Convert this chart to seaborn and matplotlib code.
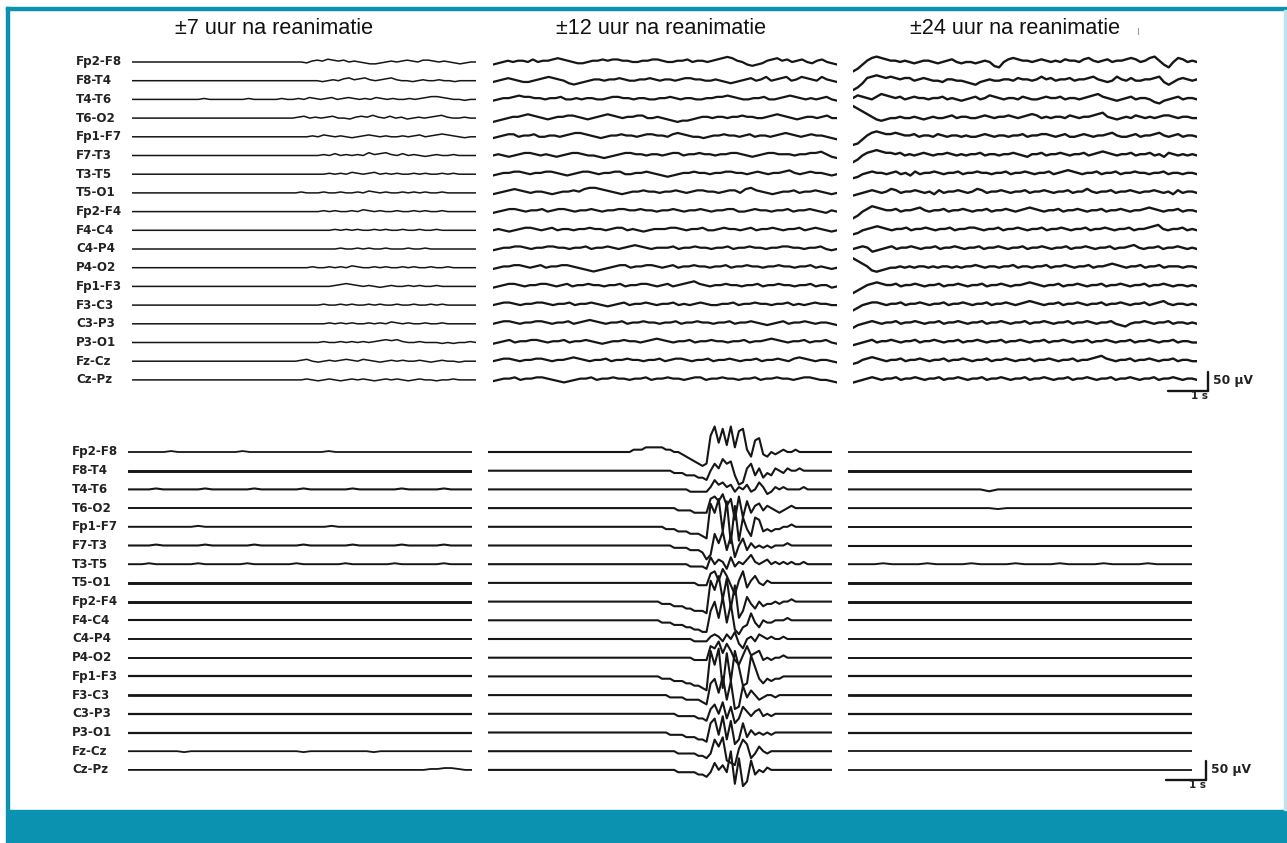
import numpy as np
import matplotlib
matplotlib.use("Agg")
import matplotlib.pyplot as plt
import seaborn as sns
from matplotlib.patches import Rectangle
from matplotlib.lines import Line2D

# ---------------------------------------------------------------- data
CHANNELS = ["Fp2-F8", "F8-T4", "T4-T6", "T6-O2", "Fp1-F7", "F7-T3", "T3-T5",
            "T5-O1", "Fp2-F4", "F4-C4", "C4-P4", "P4-O2", "Fp1-F3", "F3-C3",
            "C3-P3", "P3-O1", "Fz-Cz", "Cz-Pz"]
PERIODS = ["±7 uur na reanimatie", "±12 uur na reanimatie", "±24 uur na reanimatie"]

# Each trace is written as one character per sample: 'M' is the baseline,
# every letter above / below is one amplitude step up / down.
top_7h = [
    "MMMMMMMMMMMMMMMMMMMMMMMMMMMMMMMMMLNONPONOMNMLKKLMNMNONMOONMNMLKLMM",
    "MMMMMMMMMMMMMMMMMMMMMMMMMMMMMMMMMMMMLMNMOPNOPNMNOPNMMLMNMMNMMLMMMM",
    "MMMMMMMMMMMMMNMMMMMMMNMMMMMNMMNMONMNOMNONMNMONMNMMNMNOPPONMMLMM",
    "MMMMMMMMMMMMMMMMMMMMMMMMMMMMMNOMNMNOMMLNONPNMOMNLMNMNOPNMMNMM",
    "MMMMMMMMMMMMMMMMMMMMMMMMMMMMMMMMNMONMNMLMNONMNMMNMNOMNOPONMLMM",
    "MMMMMMMMMMMMMMMMMMMMMMMMMMMMMMMMMMNMOMNMNMPNOPNMOMNMLMNMMNMMMM",
    "MMMMMMMMMMMMMMMMMMMMMMMMMMMMMMMMMMMNMNMONMNOMNMNMMNMNMMNMNMMMM",
    "MMMMMMMMMMMMMMMMMMMMMMMMMMMMMMNMMMNMMNMMNMONMNMMNMNMNMMNMMMMMM",
    "MMMMMMMMMMMMMMMMMMMMMMMMMMMMMMMMMMNMNMMNMONMNMMNMMNMNMMNMMMMMM",
    "MMMMMMMMMMMMMMMMMMMMMMMMMMMMMMMMMMMMNMNMNMMNMNMMNMMNMMNMMMMMMM",
    "MMMMMMMMMMMMMMMMMMMMMMMMMMMMMMMMMMMMMNMMNMNMMNMMMNMMNMMMMMMMMM",
    "MMMMMMMMMMMMMMMMMMMMMMMMMMMMMMMMNMMNMNMONMMNMNMMNMNMMNMMNMMMMM",
    "MMMMMMMMMMMMMMMMMMMMMMMMMMMMMMMMMMMMNOPONMNMLMNMMNMNMMNMMMMMMM",
    "MMMMMMMMMMMMMMMMMMMMMMMMMMMMMMMMMMNMMNMNMMNMNMMNMMNMMNMNMMMMMM",
    "MMMMMMMMMMMMMMMMMMMMMMMMMMMMMMMMMMMNMNMNMMNMNMONMNMMNMMNMMMMMM",
    "MMMMMMMMMMMMMMMMMMMMMMMMMMMMMMMMMMNMMNMNMNMNOPOPNMMNMMMLMLMMNM",
    "MMMMMMMMMMMMMMMMMMMMMMMMMMMMMMNOMLMNMNONMONMLMNMNMMNMLMNMMLMMM",
    "MMMMMMMMMMMMMMMMMMMMMMMMMMMMMMMNMLMNMLMNMNMLMNMNMLMNMMLMMNMMMM",
]

top_12h = [
    "KLMNMNNMOMNNOPONMLLMNNONOONNMMNNOONMMNNOMNNMNOPQPNMKJKLNOPNOMNOMLNOMLK",
    "LMNONMLLMNOPONMKJKLMNNMNNONMMNNONMNNMNOONNMMNMLKLMNOMNPMNOPMNPONMPNML",
    "LMNNOPOONNMNNOMMNMNNMMNOONNMNNMMNNONMNNMMNNOOPONMMNNOMMNOPONMNMNOML",
    "JKLMNNOPONMLMNNOONMLMNOPONMNNOOMMNMLKJKKLMNNMNNMNNONNMMNOPONMLMNNMNOMM",
    "LMNOOMNNOMMNNMNOPPONMLMNNONNMNOONNMOPONMMLMNNONNMNOMNNMNOPONMNONNMLK",
    "MNMLMNOONMNMLMNOONMMLKLMNOONNMNNMNOOMNNONNMNNOONMLMNOONNNMNNOOPNLK",
    "LMNNOONMNNOONMLMNOONMNNOOMMNNONMLKLMNNONNMNNOONNMNONMNNOPNMNONNMLM",
    "LMNOPONMNNMLMNNONPQQPONMLMNNONNMNNONMNOONNMNOOMPQONMLMNNOMNNONMLM",
    "LMNOONMNNOMNOONMNNONMNNOONNONNMNNONMNNONMNNOOMMNONNMNNOMNNONMLNM",
    "MNMLMNOONMNOMNNMNNONNMNOOMNMLMNNNOONMNNOMMNONNMNOMNNONMNNOMNONMLM",
    "LMNNOONMNNOONNMNNOMNNONMNOPONMNNNOMNNONNMNNOMNNONNMNNOONNMNNOMLM",
    "LMNNOONMNOMNNOONMLKJKLMNOOMNNOONMNOMNNONNMNNOMNNONNMNNONNMNNOMNMLM",
    "LMNOONMNNOONMNOMNNONNMNNOMNNOONMNOMNOPQONMNNONNMNNOMNNONNMNNOMNNLM",
    "MNOONMNNOONMNNOMNNONMLMNOMNNONMNNOMNMNONMMNNOMNNONNMNNOMNMNONNMM",
    "MNOONMNNOONMNNOMNOPONMNNOMNNONNMNNOMNNONNMNNOMNNONMLMNOMNNONMNNML",
    "LMNOMNNOONMNNOMNNONMLMNNONNMNOPONMNNOMNNONNMNNOMNNOPONMNNOMNNOML",
    "MNOONMNNOONMNNOPONMNNOMNNONNMNNOMNOONMNNOMNNONMNNOMNNONMOPONMNNML",
    "LMNNOMNNOONMLKLMNNOMNNONNMNNOMNNONNMNOOMNNONNMNNOMNNONNMNOONMMLK",
]

top_24h = [
    "FHKNPQPONNMNMLMNNMLMNOMLMMLMNMJIMOPONNMNONMNMONNMOPNMNOMNNOPOMNPQNKIMPOMNM",
    "FHKOPQPOPONOOMNONMMLNNMMLKJLMNMMNNMONNMNPNOMNNOMNNOPNMLMPNMOMMNNOPLJLNONMN",
    "NPONMOQPONOMNONNMNNOMNMLMNOMNPONMNNMONMMNONNOMNNMNOPQONMLMNOMNNMKJLMNOMNNM",
    "VTRPNLKLMMNMMNMLMNMMNOMNNMMNONMNNONMNOPOMNMNNMONMNNOPQNMLMNMONMNMNOONMNNMM",
    "GHKNPQPOOPONNOMNNMONMNNMNMMNONMNNMNNOMNNOONMNOMMNONMNNOPNMMNOMNNOPNMNOMNNM",
    "HJMOPQPOONOMNMNONMNNONMNMNNOMNNMNNONMLNNOMNNONMNNOMNOPONMNNOMNNOMNLONMNMNM",
    "JKMNONNMNOMNLOMNNONMNNOMNNONNMNNOMNNONMNNOMNOPONMNNOMNNOMNNONNMNNOMNNMNNM",
    "KLMNONMNPOMNNONMNLOMNNONMNPOMNNONMNNOMNNONMNNOMNNPNMNNOMNNONMNNONMNLOMNNM",
    "HJMOQPONNOMNNOPNMNNOMNNONMNNOMNNONMNOPONMNNOMNNONMNNOMNNONMNNOPONMNNOMNNM",
    "JKMNOPONMNNOMNNONMNNOMNNOONMNNOMNNONMNNOMNNONMNNOMNNONMNNOMNNOPQNMNNOMNM",
    "MNONKLMNOMNNONMNNOMNNONMNNOMNNONMNNOMNNONMNNOMNNONMNNOMNNOPNMNNOMNNONMNM",
    "TRPNKJKLMMNMNMNNMNMNNMNMNNONMNNMNNOMNNMNNOMNNONMNNOMNNOPONMNNOMNNOMNNNMNNM",
    "HJLNOPONNOMNNONMNNOMNNONMNNOMNNONMNNOPONMNNOMNNONMNNOMNNONMNNOMNNONMNNMNM",
    "IKMNOONMNNOMNNONMNNOMNNONMNNOMNNONMNOPONMNNOMNNONMNNOMNNONMNNOMNOPNMNNMNM",
    "JLMNONMNNOMNNONMNNOMNNONMNNOMNNONMNNOMNNONMNNOMNNONMNNOMLKMNNONMNNOMNNMNM",
    "KLMNOMNNONMNNOMNNONMNNOMNNONMNNOMNNONMNNOMNNONMNNOMNNONMNNOMNNONMNNOMNNMM",
    "KLNOPONMNNOMNNONMNNOMNNONMNNOMNNONMNNOMNNONMNNOMNNOPQONMNNOMNNONMNNOMNNMM",
    "KLMNONMNNOMNNONMNNOMNNONMNNOMNNONMNNOMNNONMNNOMNNONMNNOMNNONMNNOMNNONMNNM",
]

bottom_7h = [
    "MMMMMMNMMMMMMMMMNMMMMMMMMMMMNMMMMMMMMMMMMMMMMMMMM",
    "MMMMMMMMMMMMMMMMMMMMMMMMMMMMMMMMMMMMMMMMMMMMMMMMMM",
    "MMMMNMMMMMMNMMMMMMNMMMMMMNMMMMMMNMMMMMMNMMMMMNMMMM",
    "MMMMMMMMMMMMMMMMMMMMMMMMMMMMMMMMMMMMMMMMMMMMMMMMMM",
    "MMMMMMMMMMNMMMMMMMMMMMMMMMMMMNMMMMMMMMMMMMMMMMMMMM",
    "MMMMNMMMMMMNMMMMMMNMMMMMMNMMMMMMNMMMMMMNMMMMMNMMMM",
    "MMMNMMMMMMNMMMMMMNMMMMMMNMMMMMMNMMMMMMNMMMMMMNMMMM",
    "MMMMMMMMMMMMMMMMMMMMMMMMMMMMMMMMMMMMMMMMMMMMMMMMMM",
    "MMMMMMMMMMMMMMMMMMMMMMMMMMMMMMMMMMMMMMMMMMMMMMMMMM",
    "MMMMMMMMMMMMMMMMMMMMMMMMMMMMMMMMMMMMMMMMMMMMMMMMMM",
    "MMMMMMMMMMMMMMMMMMMMMMMMMMMMMMMMMMMMMMMMMMMMMMMMMM",
    "MMMMMMMMMMMMMMMMMMMMMMMMMMMMMMMMMMMMMMMMMMMMMMMMMM",
    "MMMMMMMMMMMMMMMMMMMMMMMMMMMMMMMMMMMMMMMMMMMMMMMMMM",
    "MMMMMMMMMMMMMMMMMMMMMMMMMMMMMMMMMMMMMMMMMMMMMMMMMM",
    "MMMMMMMMMMMMMMMMMMMMMMMMMMMMMMMMMMMMMMMMMMMMMMMMMM",
    "MMMMMMMMMMMMMMMMMMMMMMMMMMMMMMMMMMMMMMMMMMMMMMMMMM",
    "MMMMMMMMLMMMMMMMMMMMMMMMMLMMMMMMMMMLMMMMMMMMMMMMMM",
    "MMMMMMMMMMMMMMMMMMMMMMMMMMMMMMMMMMMMMMMMMMMMNNOONMM",
]

bottom_12h = [
    "MMMMMMMMMMMMMMMMMMMMMMMMMMMMMMMMMMMMNN" "NOOOOONNMMLKJIHG" "HTXQWPXOVWNKRSLKML" "MNMMNMMMMMMMMM",
    "MMMMMMMMMMMMMMMMMMMMMMMMMMMMMMMMMMMMMM" "MMMMMMMMLLLKKKJJ" "IMPNRPQKGHNPKNJLKN" "MLNMMNMMMMMMMM",
    "MMMMMMMMMMMMMMMMMMMMMMMMMMMMMMMMMMMMMM" "MMMMMMMMMMMMLLLL" "LNQOPNOLNMOLMPNKLN" "MNMMMMNMMMMMMM",
    "MMMMMMMMMMMMMMMMMMMMMMMMMMMMMMMMMMMMMM" "MMMMMMMMMLLLLKKK" "KQRPSNQHRIPKNOLNML" "KLMNMMMMMMMMMM",
    "MMMMMMMMMMMMMMMMMMMMMMMMMMMMMMMMMMMMMM" "MMMMMMLLLKKKJJJI" "HWSYKXFVGQLIQPKLKL" "LMMNMMMMMMMMMM",
    "MMMMMMMMMMMMMMMMMMMMMMMMMMMMMMMMMMMMMM" "MMMMMMMMLLLLKKKJ" "GIRNSKQHMPKNLMLMLM" "MMNMMMMMMMMMMM",
    "MMMMMMMMMMMMMMMMMMMMMMMMMMMMMMMMMMMMMM" "MMMMMMMMMMMMLLLL" "KPMONKPLNMOQNMNOMN" "MNMNMMNMMMMMMM",
    "MMMMMMMMMMMMMMMMMMMMMMMMMMMMMMMMMMMMMM" "MMMMMMMMMMMMMMLL" "LQRNSPLHNRKNPMLNMM" "MMMMMMMMMMMMMM",
    "MMMMMMMMMMMMMMMMMMMMMMMMMMMMMMMMMMMMMM" "MMMMMLLLKKKJJIII" "HVRXNWJTFIOLJMKLLM" "LMMNMMMMMMMMMM",
    "MMMMMMMMMMMMMMMMMMMMMMMMMMMMMMMMMMMMMM" "MMMMMLLLKKKJJIIH" "HQUNWLTIGJKPLJMLLM" "MMNMMMMMMMMMMM",
    "MMMMMMMMMMMMMMMMMMMMMMMMMMMMMMMMMMMMMM" "MMMMMMMMMMMMMLLL" "LNONLOMPKIMNLONMNM" "MNMMMMMMMMMMMM",
    "MMMMMMMMMMMMMMMMMMMMMMMMMMMMMMMMMMMMMM" "MMMMMMMMMMMMMLLL" "LRQTOSPLJNRNOPLMLM" "MNMMMMMMMMMMMM",
    "MMMMMMMMMMMMMMMMMMMMMMMMMMMMMMMMMMMMMM" "MMMMMLLLKKKJJIIH" "GXRYHWKXQIJVQLJLKL" "LMMMMMMMMMMMMM",
    "MMMMMMMMMMMMMMMMMMMMMMMMMMMMMMMMMMMMMM" "MMMMMMMLLLLKKKKJ" "IRTNUKSGHQLOMKLMML" "MMMMMMMMMMMMMM",
    "MMMMMMMMMMMMMMMMMMMMMMMMMMMMMMMMMMMMMM" "MMMMMMMMMLLLLLKK" "JOQMRKPIKPNLNOLMLM" "MMMMMMMMMMMMMM",
    "MMMMMMMMMMMMMMMMMMMMMMMMMMMMMMMMMMMMMM" "MMMMMMMLLLLKKKJJ" "IQSLTJRHJQKNLMLMLM" "MMMMMMMMMMMMMM",
    "MMMMMMMMMMMMMMMMMMMMMMMMMMMMMMMMMMMMMM" "MMMMMMMMMLLLLLKK" "JLROSIHGNRPJLOMLMM" "MMMMMMMMMMMMMM",
    "MMMMMMMMMMMMMMMMMMMMMMMMMMMMMMMMMMMMMM" "MMMMMMMMMLLLLLKK" "JLPMOLUGRFHQKMLNMM" "MMMMMMMMMMMMMM",
]

bottom_24h = [
    "MMMMMMMMMMMMMMMMMMMMMMMMMMMMMMMMMMMMMMMM",
    "MMMMMMMMMMMMMMMMMMMMMMMMMMMMMMMMMMMMMMMM",
    "MMMMMMMMMMMMMMMMKMMMMMMMMMMMMMMMMMMMMMMM",
    "MMMMMMMMMMMMMMMMMLMMMMMMMMMMMMMMMMMMMMMM",
    "MMMMMMMMMMMMMMMMMMMMMMMMMMMMMMMMMMMMMMMM",
    "MMMMMMMMMMMMMMMMMMMMMMMMMMMMMMMMMMMMMMMM",
    "MMMMNMMMMNMMMMNMMMMNMMMMNMMMMNMMMMNMMMMM",
    "MMMMMMMMMMMMMMMMMMMMMMMMMMMMMMMMMMMMMMMM",
    "MMMMMMMMMMMMMMMMMMMMMMMMMMMMMMMMMMMMMMMM",
    "MMMMMMMMMMMMMMMMMMMMMMMMMMMMMMMMMMMMMMMM",
    "MMMMMMMMMMMMMMMMMMMMMMMMMMMMMMMMMMMMMMMM",
    "MMMMMMMMMMMMMMMMMMMMMMMMMMMMMMMMMMMMMMMM",
    "MMMMMMMMMMMMMMMMMMMMMMMMMMMMMMMMMMMMMMMM",
    "MMMMMMMMMMMMMMMMMMMMMMMMMMMMMMMMMMMMMMMM",
    "MMMMMMMMMMMMMMMMMMMMMMMMMMMMMMMMMMMMMMMM",
    "MMMMMMMMMMMMMMMMMMMMMMMMMMMMMMMMMMMMMMMM",
    "MMMMMMMMMMMMMMMMMMMMMMMMMMMMMMMMMMMMMMMM",
    "MMMMMMMMMMMMMMMMMMMMMMMMMMMMMMMMMMMMMMMM",
]

# amplitude of one step, µV
STEP_TOP = [2.5, 3.4, 3.6]
STEP_BOTTOM = [2.5, 6.2, 2.5]
EPOCH_S = 8.6          # length of every displayed epoch
SCALE_UV, SCALE_S = 50, 1

# ---------------------------------------------------------------- layout
W, H, DPI = 1287, 843, 100
PX_PER_S = 40.0
ROW_PX = 18.7
CH_GAP_UV = 50.0
PX_PER_UV = ROW_PX / CH_GAP_UV
INK = "#161616"
TEAL = "#0b92b0"

sns.set_theme(style="white")
plt.rcParams["font.family"] = ["Liberation Sans", "DejaVu Sans"]

fig = plt.figure(figsize=(W / DPI, H / DPI), dpi=DPI)
fig.patch.set_facecolor("white")


def panel_axes(x0_px, row0_px, pad=32):
    width = EPOCH_S * PX_PER_S
    span = (len(CHANNELS) - 1) * ROW_PX
    top_px, bot_px = row0_px - pad, row0_px + span + pad
    ax = fig.add_axes([x0_px / W, 1 - bot_px / H, width / W, (bot_px - top_px) / H])
    ax.set_xlim(0, EPOCH_S)
    ax.set_ylim(-(span + pad) / PX_PER_UV, pad / PX_PER_UV)
    ax.axis("off")
    return ax


def draw_traces(ax, traces, uv_step, widths):
    for i, code in enumerate(traces):
        levels = np.array([ord(c) - ord("M") for c in code], dtype=float)
        t = np.linspace(0, EPOCH_S, len(levels))
        v = levels * uv_step - i * CH_GAP_UV
        sns.lineplot(x=t, y=v, ax=ax, color=INK, lw=widths[i], estimator=None,
                     sort=False, legend=False)


def channel_labels(ax, x0_px, label_px):
    for i, name in enumerate(CHANNELS):
        ax.text(-(x0_px - label_px) / PX_PER_S, -i * CH_GAP_UV, name,
                ha="left", va="center", fontsize=8.6, fontweight="bold",
                family="DejaVu Sans", color="#222222", clip_on=False)


def scale_bar(ax, t_px, y_px_top, x0_px, row0_px):
    t = (t_px - x0_px) / PX_PER_S
    y_top = -(y_px_top - row0_px) / PX_PER_UV
    y_bot = y_top - SCALE_UV
    ax.plot([t, t], [y_top, y_bot], color=INK, lw=1.7, clip_on=False)
    ax.plot([t - SCALE_S, t], [y_bot, y_bot], color=INK, lw=1.7, clip_on=False)
    ax.text(t + 0.13, (y_top + y_bot) / 2 + 3, "50 µV", ha="left", va="center",
            fontsize=8.8, fontweight="bold", family="DejaVu Sans", color="#222222",
            clip_on=False)
    ax.text(t - 0.22, y_bot - 1, "1 s", ha="center", va="top", fontsize=7.5,
            fontweight="bold", family="DejaVu Sans", color="#222222", clip_on=False)


top_x0 = [132, 493, 853]
bot_x0 = [128, 488, 848]
TOP_ROW0, BOT_ROW0 = 62, 452

top_sets = [top_7h, top_12h, top_24h]
bot_sets = [bottom_7h, bottom_12h, bottom_24h]
top_widths = [[1.1] * 18, [1.6] * 18, [1.7] * 18]
heavy = [1.3, 2.1, 1.5, 1.4, 1.4, 1.5, 1.4, 2.1, 2.1, 1.5, 1.4, 1.4, 1.6, 2.0, 1.6, 1.6, 1.3, 1.3]
bot_widths = [heavy, [1.5] * 18, heavy]

for k in range(3):
    ax = panel_axes(top_x0[k], TOP_ROW0)
    draw_traces(ax, top_sets[k], STEP_TOP[k], top_widths[k])
    if k == 0:
        channel_labels(ax, top_x0[k], 76)
    if k == 2:
        scale_bar(ax, 1208, 372, top_x0[k], TOP_ROW0)

    axb = panel_axes(bot_x0[k], BOT_ROW0)
    draw_traces(axb, bot_sets[k], STEP_BOTTOM[k], bot_widths[k])
    if k == 0:
        channel_labels(axb, bot_x0[k], 72)
    if k == 2:
        scale_bar(axb, 1206, 761, bot_x0[k], BOT_ROW0)

# period headings
for cx, title in zip([274, 661, 1015], PERIODS):
    fig.text(cx / W, 1 - 29 / H, title, ha="center", va="center",
             fontsize=15.6, color="#111111")

# frame: teal rule on the left and top, teal footer band
fig.patches.append(Rectangle((6 / W, 0), (W - 6) / W, 33 / H,
                             transform=fig.transFigure, color=TEAL, zorder=0))
fig.patches.append(Rectangle((6 / W, 33 / H), 3 / W, (H - 7 - 33) / H,
                             transform=fig.transFigure, color=TEAL, zorder=0))
fig.patches.append(Rectangle((6 / W, 1 - 10 / H), (W - 6) / W, 3 / H,
                             transform=fig.transFigure, color=TEAL, zorder=0))
fig.patches.append(Rectangle((1284 / W, 33 / H), 1.5 / W, (H - 43) / H,
                             transform=fig.transFigure, color="#bfe2ec", zorder=0))
fig.lines.append(Line2D([1138 / W, 1138 / W], [1 - 28 / H, 1 - 34 / H],
                        transform=fig.transFigure, color="#9a9a9a", lw=0.8))

fig.savefig("out.png", dpi=DPI, facecolor="white")
